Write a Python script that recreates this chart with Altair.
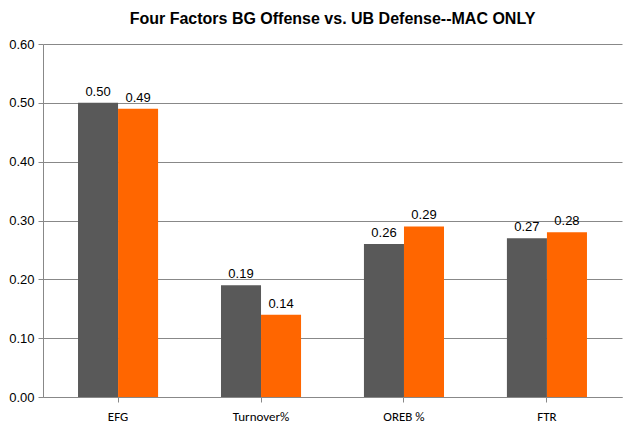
import altair as alt
import pandas as pd

categories = ["EFG", "Turnover%", "OREB %", "FTR"]
bg_offense = [0.50, 0.19, 0.26, 0.27]
ub_defense = [0.49, 0.14, 0.29, 0.28]
series = ["BG Offense", "UB Defense"]

rows = []
for c, a, b in zip(categories, bg_offense, ub_defense):
    rows.append({"cat": c, "series": series[0], "v": a})
    rows.append({"cat": c, "series": series[1], "v": b})
df = pd.DataFrame(rows)

x = alt.X("cat:N", sort=categories, title=None,
          scale=alt.Scale(paddingInner=0.44, paddingOuter=0.245),
          axis=alt.Axis(labelAngle=0, labelFont="Carlito, Calibri, Liberation Sans", labelFontSize=13,
                        labelColor="black", domainColor="#888", tickColor="#888", labelPadding=8))
y = alt.Y("v:Q", title=None,
          scale=alt.Scale(domain=[0, 0.6]),
          axis=alt.Axis(values=[0, 0.1, 0.2, 0.3, 0.4, 0.5, 0.6], format=".2f",
                        labelFontSize=13, labelColor="black", gridColor="#888",
                        domainColor="#888", tickColor="#888", labelPadding=4))
color = alt.Color("series:N", scale=alt.Scale(domain=series, range=["#595959", "#FF6600"]), legend=None)

base = alt.Chart(df).encode(x=x, xOffset=alt.XOffset("series:N", sort=series))
bars = base.mark_bar().encode(y=y, color=color)
text = base.mark_text(dy=-11, fontSize=13, color="black").encode(y="v:Q", text=alt.Text("v:Q", format=".2f"))

chart = (bars + text).properties(
    width=579, height=353,
    padding={"left": 0, "top": 3, "right": 5, "bottom": 5},
    title=alt.TitleParams("Four Factors BG Offense vs. UB Defense--MAC ONLY",
                          fontSize=16, fontWeight="bold", color="black", offset=11),
).configure_view(stroke=None)

chart.save("out.html", embed_options={"renderer": "svg", "actions": False})
